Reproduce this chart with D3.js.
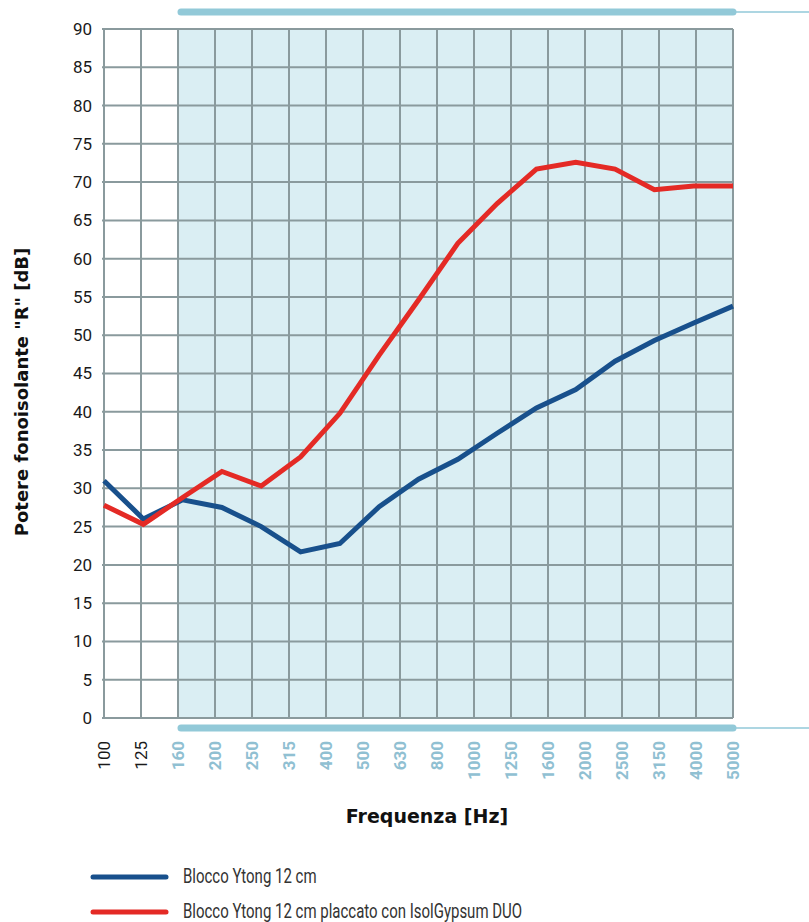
<!DOCTYPE html>
<html>
<head>
  <meta charset="utf-8">
  <title>Potere fonoisolante</title>
  <script src="https://cdnjs.cloudflare.com/ajax/libs/d3/7.8.5/d3.min.js"></script>
  <style>
    body { margin: 0; background: #fff; }
    .grid line { stroke: #8a9a9d; stroke-width: 2; }
    .tick text { font-family: "Roboto", "Noto Sans", sans-serif; }
    .title { font-family: "DejaVu Sans", sans-serif; font-weight: bold; fill: #111; }
    .legend text { font-family: "Roboto", "Noto Sans", sans-serif; font-size: 20px; fill: #333; }
  </style>
</head>
<body>
<div id="chart"></div>
<script>
  // frequency bands on the x axis
  var freqLabels = ["100", "125", "160", "200", "250", "315", "400", "500", "630", "800",
                    "1000", "1250", "1600", "2000", "2500", "3150", "4000", "5000"];
  // first band of the highlighted range
  var shadeFrom = "160";
  var yTicks = d3.range(0, 95, 5);

  // measured curves (17 points spread across the plot)
  var ytong = [31.0, 26.0, 28.5, 27.5, 25.0, 21.7, 22.8, 27.6, 31.2, 33.8,
               37.2, 40.5, 42.9, 46.6, 49.3, 51.6, 53.8];
  var ytongIsol = [27.8, 25.3, 28.8, 32.2, 30.3, 34.1, 39.8, 47.4, 54.6, 62.0,
                   67.2, 71.7, 72.6, 71.7, 69.0, 69.5, 69.5];

  var series = [
    {name: "Blocco Ytong 12 cm", values: ytong, color: "#18508c"},
    {name: "Blocco Ytong 12 cm placcato con IsolGypsum DUO", values: ytongIsol, color: "#e42a25"}
  ];

  var W = 809, H = 922;
  var margin = {top: 29, left: 104, right: 76, bottom: 204};
  var width = W - margin.left - margin.right,
      height = H - margin.top - margin.bottom;

  var svg = d3.select("#chart").append("svg")
      .attr("width", W).attr("height", H);
  var g = svg.append("g")
      .attr("transform", "translate(" + margin.left + "," + margin.top + ")");

  var x = d3.scalePoint().domain(freqLabels).range([0, width]);
  var xi = d3.scalePoint().domain(d3.range(ytong.length)).range([0, width]);
  var y = d3.scaleLinear().domain([0, 90]).range([height, 0]);

  // shaded band
  g.append("rect")
      .attr("x", x(shadeFrom)).attr("y", 0)
      .attr("width", width - x(shadeFrom)).attr("height", height)
      .attr("fill", "#daeef3");

  // grid
  g.append("g").attr("class", "grid")
    .selectAll("line").data(freqLabels).enter().append("line")
      .attr("x1", d => x(d)).attr("x2", d => x(d))
      .attr("y1", 0).attr("y2", height);
  g.append("g").attr("class", "grid")
    .selectAll("line").data(yTicks).enter().append("line")
      .attr("x1", -2).attr("x2", width)
      .attr("y1", d => y(d)).attr("y2", d => y(d));

  // y axis labels
  var yAxis = g.append("g")
      .call(d3.axisLeft(y).tickValues(yTicks).tickSize(0).tickPadding(12));
  yAxis.select(".domain").remove();
  yAxis.selectAll("text").attr("font-size", 17).attr("fill", "#1a1a1a");

  // x axis labels (rotated)
  var isShaded = d => freqLabels.indexOf(d) >= freqLabels.indexOf(shadeFrom);
  var xAxis = g.append("g")
      .attr("transform", "translate(0," + height + ")")
      .call(d3.axisBottom(x).tickSize(0));
  xAxis.select(".domain").remove();
  xAxis.selectAll("text")
      .attr("transform", "rotate(-90)")
      .attr("text-anchor", "end")
      .attr("x", -23).attr("y", 0).attr("dy", "0.35em")
      .attr("font-size", 17)
      .attr("font-weight", d => isShaded(d) ? "bold" : "normal")
      .attr("fill", d => isShaded(d) ? "#90c0d2" : "#1a1a1a");

  // decorative range bars above and below
  [-17, height + 10].forEach(function (yy) {
    g.append("line")
        .attr("x1", x(shadeFrom) + 3).attr("x2", width)
        .attr("y1", yy).attr("y2", yy)
        .attr("stroke", "#92c9d8").attr("stroke-width", 7)
        .attr("stroke-linecap", "round");
    g.append("line")
        .attr("x1", width).attr("x2", W - margin.left)
        .attr("y1", yy).attr("y2", yy)
        .attr("stroke", "#92c9d8").attr("stroke-width", 1.5);
  });

  // curves
  var line = d3.line().x((d, i) => xi(i)).y(d => y(d));
  series.forEach(function (s) {
    g.append("path")
        .datum(s.values)
        .attr("fill", "none")
        .attr("stroke", s.color)
        .attr("stroke-width", 5)
        .attr("d", line);
  });

  // axis titles
  svg.append("text").attr("class", "title")
      .attr("transform", "translate(28,392) rotate(-90)")
      .attr("text-anchor", "middle")
      .attr("font-size", 18)
      .text('Potere fonoisolante "R" [dB]');
  svg.append("text").attr("class", "title")
      .attr("x", 427).attr("y", 823)
      .attr("text-anchor", "middle")
      .attr("font-size", 19)
      .text("Frequenza [Hz]");

  // legend (condensed lettering)
  var legend = svg.append("g").attr("class", "legend");
  series.forEach(function (s, i) {
    var yy = 876 + i * 35;
    legend.append("line")
        .attr("x1", 93).attr("x2", 166).attr("y1", yy + 1).attr("y2", yy + 1)
        .attr("stroke", s.color).attr("stroke-width", 5)
        .attr("stroke-linecap", "round");
    legend.append("text")
        .attr("transform", "translate(183," + yy + ") scale(0.75,1)")
        .attr("dy", "0.35em")
        .text(s.name);
  });
</script>
</body>
</html>
